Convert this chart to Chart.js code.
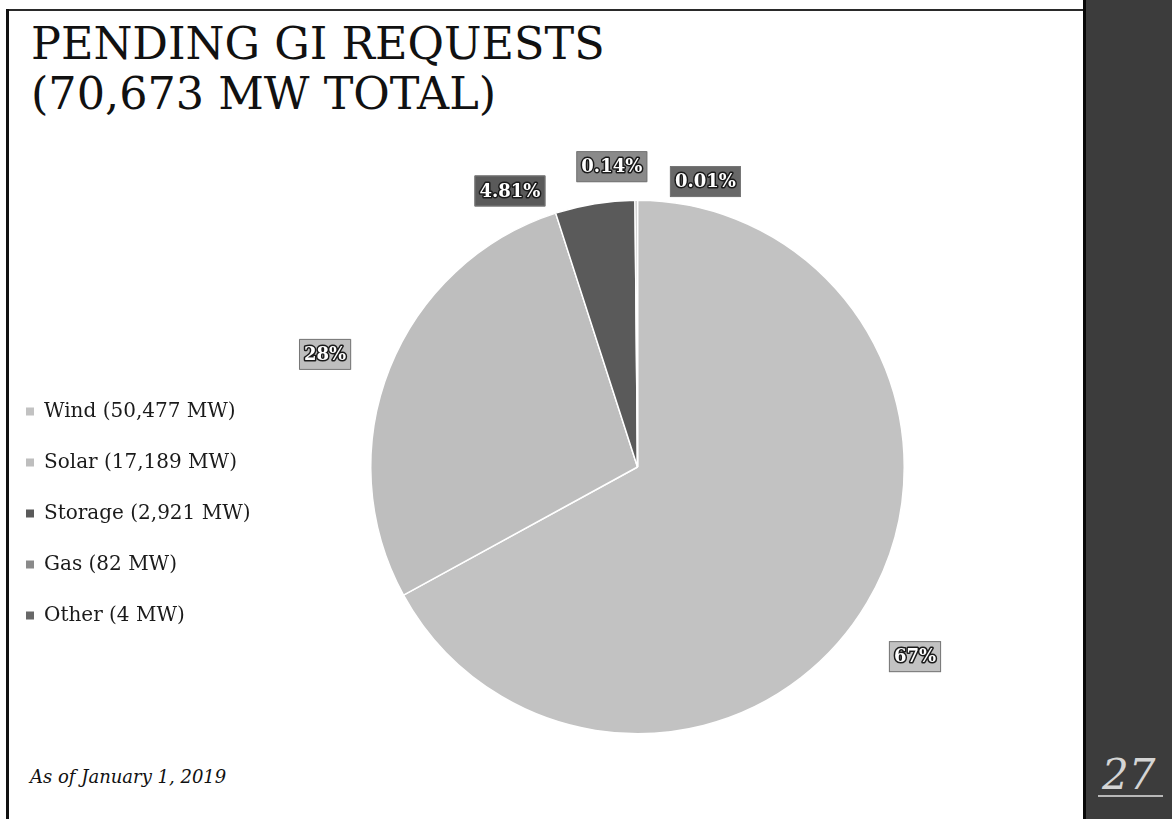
<!DOCTYPE html>
<html>
<head>
<meta charset="utf-8">
<title>Pending GI Requests</title>
<script src="https://cdn.jsdelivr.net/npm/chart.js@4.4.1/dist/chart.umd.min.js"></script>
<style>
  html, body { margin: 0; padding: 0; background: #fff; }
  body { width: 1172px; height: 819px; position: relative; overflow: hidden; font-family: 'DejaVu Serif', serif; }
  #frameTop { position: absolute; left: 6px; top: 9px; width: 1078px; height: 2px; background: #2a2a2a; }
  #frameLeft { position: absolute; left: 6px; top: 9px; width: 3px; height: 810px; background: #111; }
  #band { position: absolute; left: 1083px; top: 0; width: 89px; height: 819px; background: #3c3c3c;
          border-left: 3px solid #080808; box-sizing: border-box; }
  #pageNum { position: absolute; left: 12px; top: 755px; font-size: 42px; font-style: italic; color: #d4d4d4;
             border-bottom: 2px solid #b8b8b8; line-height: 40px; padding: 0 8px 0 4px; }
  #title { position: absolute; left: 31px; top: 19px; font-size: 44.5px; line-height: 50px; color: #111; white-space: nowrap; }
  #note { position: absolute; left: 30px; top: 766px; font-size: 18px; font-style: italic; color: #111; }
  #wrap { position: absolute; left: -5px; top: 0; width: 1085px; height: 819px; }
</style>
</head>
<body>
<div id="frameTop"></div>
<div id="frameLeft"></div>
<div id="band"><div id="pageNum">27</div></div>
<div id="title">PENDING GI REQUESTS<br>(70,673 MW TOTAL)</div>
<div id="note">As of January 1, 2019</div>
<div id="wrap"><canvas id="pie" width="1085" height="819"></canvas></div>

<script>
// values as printed on the slide
const categories = ['Wind', 'Solar', 'Storage', 'Gas', 'Other'];
const capacityMW = [50477, 17189, 2921, 82, 4];
const sharePct = [67, 28, 4.81, 0.14, 0.01];

const sliceColors = ['#c2c2c2', '#bebebe', '#5a5a5a', '#8a8a8a', '#686868'];
// label nudge: degrees clockwise from slice middle, distance in radii
const labelPlace = [
  { turn: 3.7, dist: 1.26 },
  { turn: -1.9, dist: 1.245 },
  { turn: -15.6, dist: 1.14 },
  { turn: -4.6, dist: 1.13 },
  { turn: 13.4, dist: 1.10 }
];
const PIE_CX = 642.5; // canvas coords (wrap is shifted 5px left)

function fmtPct(v) { return Number.isInteger(v) ? v + '%' : v.toFixed(2) + '%'; }

const sliceLabels = {
  id: 'sliceLabels',
  afterDatasetsDraw(chart) {
    const { ctx } = chart;
    const meta = chart.getDatasetMeta(0);
    ctx.save();
    ctx.font = 'bold 18px "DejaVu Serif"';
    ctx.textAlign = 'center';
    ctx.textBaseline = 'middle';
    meta.data.forEach((arc, i) => {
      const p = arc.getProps(['x', 'y', 'startAngle', 'endAngle', 'outerRadius'], true);
      const a = (p.startAngle + p.endAngle) / 2 + labelPlace[i].turn * Math.PI / 180;
      const r = p.outerRadius * labelPlace[i].dist;
      const x = p.x + Math.cos(a) * r;
      const y = p.y + Math.sin(a) * r;
      const txt = fmtPct(sharePct[i]);
      const w = ctx.measureText(txt).width + 10, h = 31;
      ctx.fillStyle = sliceColors[i];
      ctx.fillRect(x - w / 2, y - h / 2, w, h);
      ctx.lineWidth = 1;
      ctx.strokeStyle = '#777';
      ctx.strokeRect(x - w / 2 + 0.5, y - h / 2 + 0.5, w - 1, h - 1);
      ctx.lineWidth = 3;
      ctx.lineJoin = 'round';
      ctx.strokeStyle = '#1a1a1a';
      ctx.strokeText(txt, x, y + 1);
      ctx.fillStyle = '#fff';
      ctx.fillText(txt, x, y + 1);
    });
    ctx.restore();
  }
};

const chart = new Chart(document.getElementById('pie'), {
  type: 'pie',
  data: {
    labels: categories.map((c, i) => `${c} (${capacityMW[i].toLocaleString('en-US')} MW)`),
    datasets: [{
      data: sharePct,
      backgroundColor: sliceColors,
      borderColor: '#fff',
      borderWidth: 1.5
    }]
  },
  options: {
    responsive: false,
    devicePixelRatio: 1,
    animation: false,
    layout: { padding: { top: 199.5, bottom: 84.5, left: 0, right: 40 } },
    plugins: {
      tooltip: { enabled: false },
      legend: {
        position: 'left',
        align: 'start',
        title: { display: true, text: ' ', font: { size: 10 }, padding: { top: 0, bottom: 159 } },
        labels: {
          color: '#1a1a1a',
          font: { family: '"DejaVu Serif"', size: 20 },
          boxWidth: 8,
          boxHeight: 8,
          padding: 31,
          generateLabels: (ch) => Chart.overrides.pie.plugins.legend.labels.generateLabels(ch)
            .map(it => ({ ...it, lineWidth: 0, strokeStyle: 'transparent' }))
        }
      }
    }
  },
  plugins: [sliceLabels]
});

// keep the pie centred where it sits on the slide
const ca = chart.chartArea;
chart.options.layout.padding.right += 2 * ((ca.left + ca.right) / 2 - PIE_CX);
chart.update();
</script>
</body>
</html>
